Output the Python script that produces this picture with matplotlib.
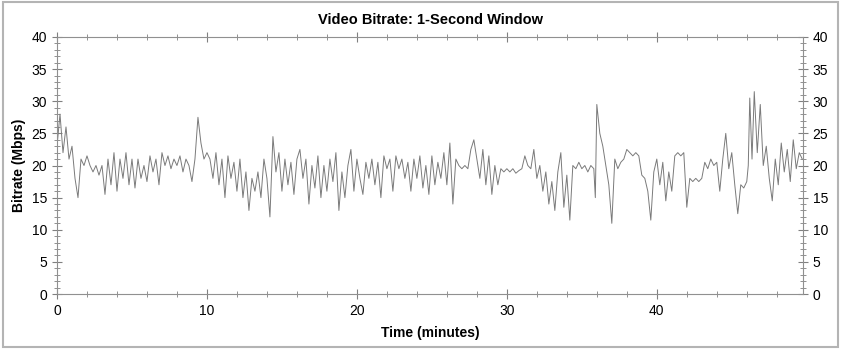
import matplotlib
matplotlib.use("Agg")
import matplotlib.pyplot as plt
from matplotlib.patches import Rectangle
from matplotlib.ticker import MultipleLocator

plt.rcParams['font.family'] = ['Liberation Sans', 'DejaVu Sans']

# time in minutes and bitrate in Mbps
minutes = [
    0.0, 0.2, 0.4, 0.6, 0.8, 1.0, 1.2, 1.4, 1.6, 1.8,
    2.0, 2.2, 2.4, 2.6, 2.8, 3.0, 3.2, 3.4, 3.6, 3.8,
    4.0, 4.2, 4.4, 4.6, 4.8, 5.0, 5.2, 5.4, 5.6, 5.8,
    6.0, 6.2, 6.4, 6.6, 6.8, 7.0, 7.2, 7.4, 7.6, 7.8,
    8.0, 8.2, 8.4, 8.6, 8.8, 9.0, 9.2, 9.4, 9.6, 9.8,
    10.0, 10.2, 10.4, 10.6, 10.8, 11.0, 11.2, 11.4, 11.6, 11.8,
    12.0, 12.2, 12.4, 12.6, 12.8, 13.0, 13.2, 13.4, 13.6, 13.8,
    14.0, 14.2, 14.4, 14.6, 14.8, 15.0, 15.2, 15.4, 15.6, 15.8,
    16.0, 16.2, 16.4, 16.6, 16.8, 17.0, 17.2, 17.4, 17.6, 17.8,
    18.0, 18.2, 18.4, 18.6, 18.8, 19.0, 19.2, 19.4, 19.6, 19.8,
    20.0, 20.2, 20.4, 20.6, 20.8, 21.0, 21.2, 21.4, 21.6, 21.8,
    22.0, 22.2, 22.4, 22.6, 22.8, 23.0, 23.2, 23.4, 23.6, 23.8,
    24.0, 24.2, 24.4, 24.6, 24.8, 25.0, 25.2, 25.4, 25.6, 25.8,
    26.0, 26.2, 26.4, 26.6, 26.8, 27.0, 27.2, 27.4, 27.6, 27.8,
    28.0, 28.2, 28.4, 28.6, 28.8, 29.0, 29.2, 29.4, 29.6, 29.8,
    30.0, 30.2, 30.4, 30.6, 30.8, 31.0, 31.2, 31.4, 31.6, 31.8,
    32.0, 32.2, 32.4, 32.6, 32.8, 33.0, 33.2, 33.4, 33.6, 33.8,
    34.0, 34.2, 34.4, 34.6, 34.8, 35.0, 35.2, 35.4, 35.6, 35.8,
    35.9, 36.0, 36.2, 36.4, 36.6, 36.8, 37.0, 37.2, 37.4, 37.6,
    37.8, 38.0, 38.2, 38.4, 38.6, 38.8, 39.0, 39.2, 39.4, 39.6,
    39.8, 40.0, 40.2, 40.4, 40.6, 40.8, 41.0, 41.2, 41.4, 41.6,
    41.8, 42.0, 42.2, 42.4, 42.6, 42.8, 43.0, 43.2, 43.4, 43.6,
    43.8, 44.0, 44.2, 44.4, 44.6, 44.8, 45.0, 45.2, 45.4, 45.6,
    45.8, 46.0, 46.1, 46.2, 46.35, 46.5, 46.7, 46.9, 47.1, 47.3,
    47.5, 47.7, 47.9, 48.1, 48.3, 48.5, 48.7, 48.9, 49.1, 49.3,
    49.5, 49.7,
]
bitrate = [
    23, 28, 22, 26, 21, 23, 18, 15, 21, 20,
    21.5, 20, 19, 20, 18.5, 20, 15.5, 21, 17, 22,
    16, 21, 18, 22, 17, 21, 16.5, 21, 18, 20,
    17.5, 21.5, 19, 21, 17, 22, 20, 21.5, 19.5, 21,
    20, 21.5, 19, 21, 20, 17.5, 21, 27.5, 23.5, 21,
    22, 21, 18, 22, 17, 21, 15, 21.5, 18, 20.5,
    16, 21, 15, 19, 13, 18, 16, 19, 15, 21,
    18, 12, 24.5, 19, 22, 16, 21, 17, 20.5, 15.5,
    21, 22.5, 18, 21, 14, 20, 16.5, 21.5, 15, 20,
    16, 21, 17.5, 22, 13, 19, 15, 20, 22.5, 16,
    21, 18, 15.5, 20.5, 18, 21, 17, 20.5, 15, 21.5,
    19.5, 21, 16, 21.5, 19.5, 21, 18, 20.5, 16, 21,
    18, 21.5, 16.5, 20, 15.5, 21.5, 17, 20.5, 18, 22,
    17, 23.5, 14, 21, 20, 19.5, 20, 19.5, 22.5, 24,
    21, 18, 22.5, 17, 21.5, 15.5, 20, 17, 19.5, 19,
    19.5, 19, 19.5, 18.8, 19.2, 19.5, 21.5, 20, 19.5, 22.5,
    18, 20, 16, 19, 14, 17.5, 13, 19, 22, 13.5,
    18.5, 11.5, 20, 19.5, 20.5, 19.5, 20, 19, 20, 19.5,
    15, 29.5, 25, 23, 20, 17, 11, 21, 19.5, 20.5,
    21, 22.5, 22, 21.5, 22, 21.5, 18.5, 18, 16, 11.5,
    19, 21, 17, 20.5, 14.5, 19, 16, 21.5, 22, 21.5,
    22, 13.5, 18, 17.5, 18, 17.5, 18, 20.5, 19.5, 21,
    20, 20.5, 16, 21, 25, 19.5, 22, 17, 12.5, 17,
    16.5, 17.5, 20, 30.5, 21, 31.5, 22, 29.5, 20, 23,
    18, 14.5, 21, 17, 23.5, 19, 22.5, 17.5, 24, 19.5,
    22, 21,
]

x_ticks = [0, 10, 20, 30, 40]
y_ticks = [0, 5, 10, 15, 20, 25, 30, 35, 40]

fig = plt.figure(figsize=(8.41, 3.49), dpi=100)
ax = fig.add_axes([57 / 841, 1 - 294 / 349, 746 / 841, 257 / 349])

ax.plot(minutes, bitrate, color='#7a7a7a', lw=0.7)

ax.set_xlim(0, 49.75)
ax.set_ylim(0, 40)
ax.set_xticks(x_ticks)
ax.set_yticks(y_ticks)
ax.xaxis.set_minor_locator(MultipleLocator(2))
ax.yaxis.set_minor_locator(MultipleLocator(1))

ax.tick_params(which='both', direction='inout', colors='#808080', labelcolor='black',
               top=True, right=True, labelright=True, labelsize=10)
ax.tick_params(which='major', length=7, width=0.8)
ax.tick_params(which='minor', length=4, width=0.6)
for s in ax.spines.values():
    s.set_color('#909090')
    s.set_linewidth(0.8)

ax.set_title('Video Bitrate: 1-Second Window', fontsize=10.5, fontweight='bold', pad=9)
ax.set_xlabel('Time (minutes)', fontsize=10, fontweight='bold', labelpad=6)
ax.set_ylabel('Bitrate (Mbps)', fontsize=10, fontweight='bold', labelpad=4)

# light frame around the whole picture
fig.patches.append(Rectangle((0.003, 0.006), 0.994, 0.988, transform=fig.transFigure,
                             fill=False, edgecolor='#b4b4b4', lw=1.5))

fig.savefig('out.png', dpi=100)
